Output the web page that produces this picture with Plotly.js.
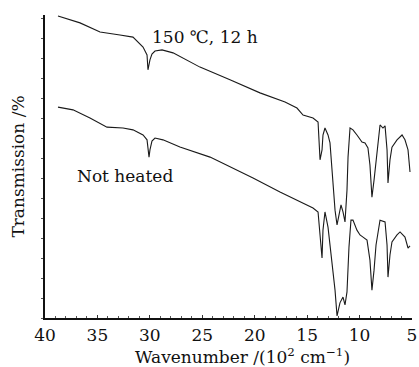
<!DOCTYPE html>
<html>
<head>
<meta charset="utf-8">
<script src="https://cdn.plot.ly/plotly-3.0.1.min.js"></script>
<style>html,body{margin:0;padding:0;background:#fff;}#chart{width:419px;height:367px;}</style>
</head>
<body>
<div id="chart"></div>
<script>
// Wavenumber (10^2 cm^-1) and transmission (arbitrary %, stacked spectra)
const wnHeated = [38.76,36.66,34.75,34.09,32.85,31.61,30.65,30.27,30.18,29.99,29.80,29.51,28.84,27.79,25.22,22.36,19.50,17.11,15.97,15.39,14.44,13.96,13.77,13.58,13.49,13.30,13.01,12.82,12.53,12.34,12.15,11.96,11.77,11.58,11.39,11.20,11.10,10.91,10.63,10.25,9.77,9.48,9.20,9.01,8.82,8.62,8.43,8.05,7.77,7.57,7.38,7.29,7.10,6.91,6.43,5.95,5.67,5.48,5.38,5.19];
const tHeated = [99.7,97.4,94.4,94.1,93.4,92.7,89.4,86.8,81.9,85.2,87.1,88.1,88.5,87.5,82.8,78.6,74.3,71.3,69.3,67.0,66.0,64.7,52.2,55.5,60.4,62.7,60.4,57.8,45.5,35.6,30.7,34.0,37.3,35.0,31.7,42.2,53.1,62.7,62.1,60.4,58.1,57.8,56.1,50.5,39.9,45.5,52.2,63.7,62.7,63.4,55.5,44.6,52.2,56.4,58.8,60.4,58.8,56.4,55.5,48.2];
const wnRaw = [38.76,37.33,35.71,34.56,34.09,32.56,31.61,30.65,30.27,30.08,29.99,29.80,29.51,28.75,27.13,24.26,20.16,17.59,15.68,14.44,13.96,13.77,13.58,13.49,13.30,13.01,12.63,12.34,12.15,11.87,11.58,11.39,11.20,11.01,10.82,10.63,10.25,9.96,9.67,9.29,9.01,8.82,8.62,8.43,8.05,7.57,7.38,7.29,7.10,6.91,6.43,6.14,5.67,5.38,5.19];
const tRaw = [69.6,68.7,66.0,63.7,63.0,62.7,62.1,60.4,58.8,53.1,55.5,58.4,59.4,58.8,56.4,53.1,46.2,41.6,38.3,36.3,35.0,25.7,19.8,29.0,35.0,30.0,18.2,9.2,0.7,5.0,6.9,4.3,8.6,23.4,32.3,32.3,29.0,27.4,26.7,25.7,19.1,9.2,15.8,24.1,32.3,31.7,24.1,13.5,20.8,25.1,27.4,28.4,26.7,23.1,23.8];
const xTickVals = [40,35,30,25,20,15,10,5];
const labelHeated = "150 ℃, 12 h";
const labelRaw = "Not heated";
const xTitle = 'Wavenumber /(10<sup>2</sup> cm<sup>−1</sup>)';
const yTitle = 'Transmission /%';

const FONT = "DejaVu Serif, Liberation Serif, serif";
const lineStyle = {color:'#1a1a1a', width:1.1};

const traces = [
  {x: wnHeated, y: tHeated, mode:'lines', line: lineStyle, hoverinfo:'skip', showlegend:false},
  {x: wnRaw, y: tRaw, mode:'lines', line: lineStyle, hoverinfo:'skip', showlegend:false}
];

const layout = {
  width: 419, height: 367,
  margin: {l:45, r:7, t:15, b:49},
  paper_bgcolor:'#fff', plot_bgcolor:'#fff',
  font: {family: FONT, color:'#111', size:17},
  xaxis: {
    range:[40,5], tickvals: xTickVals, ticktext: xTickVals.map(String),
    showgrid:false, zeroline:false, showline:true, linecolor:'#111', linewidth:1.6,
    ticks:'inside', ticklen:3, tickcolor:'#333', tickfont:{size:17, family:FONT},
    ticklabelstandoff:1,
    minor:{ticks:'inside', dtick:1, ticklen:2, tickcolor:'#555'}
  },
  yaxis: {
    range:[0,100], showgrid:false, zeroline:false, showline:true, linecolor:'#111', linewidth:1.6,
    ticks:'outside', ticklen:2, tickcolor:'#555', dtick:6.6, showticklabels:false,
    title:{text:yTitle, font:{size:17, family:FONT}, standoff:12}
  },
  annotations: [
    {x:24.74, y:92.7, xref:'x', yref:'y', text:labelHeated, showarrow:false, font:{size:17, family:FONT}},
    {x:32.37, y:46.9, xref:'x', yref:'y', text:labelRaw, showarrow:false, font:{size:17, family:FONT}},
    {x:0.5395, y:-0.127, xref:'paper', yref:'paper', xanchor:'center', yanchor:'middle',
     text:xTitle, showarrow:false, font:{size:17, family:FONT}}
  ]
};
Plotly.newPlot('chart', traces, layout, {staticPlot:true, displayModeBar:false});
</script>
</body>
</html>
